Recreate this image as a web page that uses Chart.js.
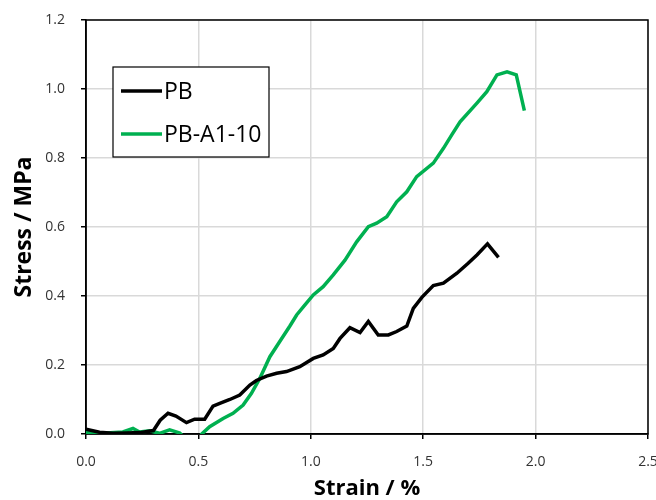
<!DOCTYPE html>
<html>
<head>
<meta charset="utf-8">
<script src="https://cdn.jsdelivr.net/npm/chart.js@4.4.0/dist/chart.umd.min.js"></script>
<style>
  html, body { margin: 0; padding: 0; background: #fff; }
  #wrap { width: 656px; height: 500px; }
</style>
</head>
<body>
<div id="wrap"><canvas id="myChart" width="656" height="500"></canvas></div>
<script>
// series (strain %, stress MPa)
const pbStrain = [0, 0.06, 0.12, 0.18, 0.24, 0.30, 0.33, 0.365, 0.40, 0.447, 0.483, 0.528, 0.565, 0.595, 0.64, 0.684, 0.729, 0.758, 0.803, 0.848, 0.892, 0.951, 1.011, 1.055, 1.10, 1.13, 1.174, 1.219, 1.256, 1.30, 1.345, 1.382, 1.427, 1.456, 1.494, 1.545, 1.59, 1.65, 1.70, 1.739, 1.786, 1.835];
const pbStress = [0.014, 0.005, 0.002, 0.003, 0.004, 0.01, 0.04, 0.06, 0.052, 0.033, 0.043, 0.043, 0.081, 0.089, 0.10, 0.113, 0.142, 0.155, 0.168, 0.176, 0.181, 0.195, 0.219, 0.229, 0.248, 0.277, 0.308, 0.294, 0.326, 0.287, 0.287, 0.297, 0.313, 0.364, 0.396, 0.430, 0.437, 0.466, 0.495, 0.519, 0.551, 0.512];

const a1Strain = [0, 0.09, 0.164, 0.209, 0.238, 0.283, 0.327, 0.372, 0.417, 0.45, 0.49, 0.515, 0.55, 0.61, 0.654, 0.699, 0.736, 0.773, 0.818, 0.862, 0.907, 0.937, 0.974, 1.011, 1.055, 1.10, 1.152, 1.204, 1.256, 1.293, 1.338, 1.382, 1.427, 1.471, 1.545, 1.59, 1.627, 1.664, 1.739, 1.783, 1.828, 1.873, 1.914, 1.95];
const a1Stress = [0.004, 0.003, 0.006, 0.016, 0.006, 0.009, 0.002, 0.012, 0.003, -0.02, -0.02, 0, 0.021, 0.045, 0.06, 0.084, 0.118, 0.161, 0.224, 0.268, 0.313, 0.345, 0.374, 0.403, 0.427, 0.461, 0.504, 0.557, 0.601, 0.611, 0.63, 0.673, 0.702, 0.746, 0.785, 0.828, 0.867, 0.905, 0.959, 0.992, 1.041, 1.050, 1.041, 0.937];

const seriesNames = ['PB', 'PB-A1-10'];
const xTitle = 'Strain / %';
const yTitle = 'Stress / MPa';

function pairs(xs, ys) {
    return xs.map((x, i) => ({ x: x, y: ys[i] }));
}

// plot frame (top + right edges too)
const frame = {
    id: 'frame',
    beforeDatasetsDraw(chart) {
        const a = chart.chartArea;
        const c = chart.ctx;
        c.save();
        c.strokeStyle = '#000';
        c.lineWidth = 1.5;
        c.strokeRect(a.left, a.top, a.right - a.left, a.bottom - a.top);
        c.restore();
    }
};

// boxed legend inside the plot
const boxLegend = {
    id: 'boxLegend',
    afterDraw(chart) {
        const c = chart.ctx;
        c.save();
        c.fillStyle = '#fff';
        c.fillRect(113, 67, 156, 90);
        c.strokeStyle = '#000';
        c.lineWidth = 1.2;
        c.strokeRect(113, 67, 156, 90);
        c.font = '23px "Open Sans"';
        c.textBaseline = 'middle';
        chart.data.datasets.forEach((ds, i) => {
            const y = 91 + i * 43;
            c.strokeStyle = ds.borderColor;
            c.lineWidth = 3.5;
            c.beginPath();
            c.moveTo(121, y);
            c.lineTo(162, y);
            c.stroke();
            c.fillStyle = '#000';
            c.fillText(ds.label, 164, y + 1);
        });
        c.restore();
    }
};

const ctx = document.getElementById('myChart');

new Chart(ctx, {
    type: 'scatter',
    data: {
        datasets: [{
            label: seriesNames[0],
            data: pairs(pbStrain, pbStress),
            borderColor: '#000000',
            borderWidth: 3.5,
            showLine: true,
            pointRadius: 0
        }, {
            label: seriesNames[1],
            data: pairs(a1Strain, a1Stress),
            borderColor: '#00b050',
            borderWidth: 3.5,
            showLine: true,
            pointRadius: 0
        }]
    },
    options: {
        responsive: false,
        animation: false,
        layout: { padding: { left: 0, top: 20, right: 8, bottom: 0 } },
        plugins: {
            legend: { display: false },
            tooltip: { enabled: false }
        },
        scales: {
            x: {
                min: 0,
                max: 2.5,
                afterFit: s => { s.height = 66; s.paddingLeft = 0; s.paddingRight = 0; },
                ticks: {
                    stepSize: 0.5,
                    padding: 15,
                    color: '#333',
                    font: { family: 'Open Sans', size: 14 },
                    callback: v => v.toFixed(1),
                    maxRotation: 0
                },
                grid: { color: '#d9d9d9', lineWidth: 1.5, tickColor: '#000', tickLength: 5 },
                border: { color: '#000', width: 1.5 },
                title: {
                    display: true,
                    text: xTitle,
                    color: '#000',
                    font: { family: 'Open Sans', size: 22, weight: 'bold' },
                    padding: { top: 0, bottom: -2 }
                }
            },
            y: {
                min: 0,
                max: 1.2,
                afterFit: s => { s.width = 86; s.paddingTop = 0; s.paddingBottom = 0; },
                ticks: {
                    stepSize: 0.2,
                    padding: 16,
                    color: '#333',
                    font: { family: 'Open Sans', size: 14 },
                    callback: v => v.toFixed(1)
                },
                grid: { color: '#d9d9d9', lineWidth: 1.5, tickColor: '#000', tickLength: 5 },
                border: { color: '#000', width: 1.5 },
                title: {
                    display: true,
                    text: yTitle,
                    color: '#000',
                    font: { family: 'Open Sans', size: 23, weight: 'bold' },
                    padding: { top: 11, bottom: 0 }
                }
            }
        }
    },
    plugins: [frame, boxLegend]
});
</script>
</body>
</html>
